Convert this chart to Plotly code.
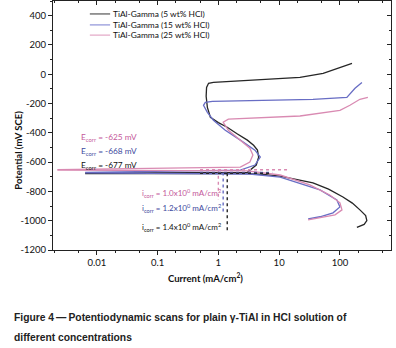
import plotly.graph_objects as go

# ---------------- data ----------------
series_names = ["TiAl-Gamma (5 wt% HCl)", "TiAl-Gamma (15 wt% HCl)", "TiAl-Gamma (25 wt% HCl)"]

# 5 wt% HCl (black)
i_5 = [190, 250, 277, 265, 213, 160, 112, 65, 36, 18, 10.4, 5.5, 3.0, 0.0066, 0.0066, 3.0,
       4.2, 4.6, 4.4, 3.8, 3.0, 2.0, 1.4, 1.0, 0.74, 0.66, 0.63, 0.64, 0.69, 0.83, 3, 10.4, 22, 53, 89, 158]
e_5 = [-1045, -1025, -1000, -965, -926, -880, -838, -785, -742, -715, -695, -684, -678, -678, -675, -670,
       -620, -566, -518, -485, -450, -405, -362, -330, -294, -226, -150, -90, -62, -56, -44, -34, -22, 6, 40, 74]

# 15 wt% HCl (blue)
i_15 = [30, 47, 77, 100, 89, 47, 10.4, 3.3, 0.0066, 0.0066, 2.3, 4.0, 4.9, 4.0, 2.3, 1.3, 0.83, 0.66,
        0.57, 0.61, 0.8, 10.4, 36, 130, 177, 230]
e_15 = [-987, -973, -946, -906, -858, -790, -702, -681, -673, -670, -654, -620, -566, -518, -450, -382, -314, -260,
        -212, -192, -185, -178, -171, -158, -96, -56]

# 25 wt% HCl (pink)
i_25 = [30, 47, 83, 108, 100, 68, 32, 10.4, 3.0, 0.0023, 0.0023, 2.3, 3.3, 3.7, 3.3, 2.3, 1.46, 1.2, 1.46,
        22, 47, 100, 146, 213, 288]
e_25 = [-994, -980, -960, -926, -878, -824, -756, -688, -660, -655, -651, -634, -600, -552, -505, -450, -382, -328, -307,
        -285, -266, -246, -212, -171, -158]

# corrosion parameters (Tafel extrapolation)
ecorr_labels = ["-625 mV", "-668 mV", "-677 mV"]
icorr_labels = ["1.0x10<sup>0</sup> mA/cm<sup>2</sup>", "1.2x10<sup>0</sup> mA/cm<sup>2</sup>",
                "1.4x10<sup>0</sup> mA/cm<sup>2</sup>"]
icorr_values = [1.0, 1.2, 1.4]            # pink, blue, black
ecorr_lines = [-652, -671, -676]          # level of dotted Tafel lines
tafel_end = [14, 7.7, 7.0]                # right end of the dotted horizontal
tafel_bottom = [-858, -940, -1082]        # lower end of the dotted vertical

y_tick_vals = [400, 200, 0, -200, -400, -600, -800, -1000, -1200]
x_tick_vals = [0.01, 0.1, 1, 10, 100]
x_tick_text = ["0.01", "0.1", "1", "10", "100"]

# ---------------- styles ----------------
C_BLACK = "#262626"
C_BLUE = "#686dc4"
C_PINK = "#d98ab2"
TXT_PINK = "#c4589a"
TXT_BLUE = "#3e4a9e"
FONT = "Lato, Liberation Sans, sans-serif"

fig = go.Figure()
for xs, ys, c, n in [(i_5, e_5, C_BLACK, series_names[0]),
                     (i_15, e_15, C_BLUE, series_names[1]),
                     (i_25, e_25, C_PINK, series_names[2])]:
    fig.add_trace(go.Scatter(x=xs, y=ys, mode="lines", name=n,
                             line=dict(color=c, width=1.3), showlegend=False))

# dotted Tafel construction lines
tcol = [C_PINK, C_BLUE, C_BLACK]
for k in range(3):
    fig.add_trace(go.Scatter(x=[0.5, tafel_end[k]], y=[ecorr_lines[k], ecorr_lines[k]], mode="lines",
                             line=dict(color=tcol[k], width=1.4, dash="dot"), showlegend=False))
    fig.add_trace(go.Scatter(x=[icorr_values[k], icorr_values[k]], y=[ecorr_lines[k], tafel_bottom[k]],
                             mode="lines", line=dict(color=tcol[k], width=1.4, dash="dot"), showlegend=False))

# dummy trace for mirrored (inside) ticks on top/right
fig.add_trace(go.Scatter(x=[0.01], y=[0], xaxis="x2", yaxis="y2", mode="markers",
                         marker=dict(opacity=0), showlegend=False, hoverinfo="skip"))

# ---------------- annotations ----------------
txtcols = [TXT_PINK, TXT_BLUE, "#111111"]
for k, ey in enumerate([-430, -525, -620]):
    fig.add_annotation(x=-2.295, y=ey, xref="x", yref="y", xanchor="left", yanchor="middle", showarrow=False,
                       text=f"E<sub>corr</sub> = {ecorr_labels[k]}",
                       font=dict(family=FONT, size=8.3, color=txtcols[k]))
for k, iy in enumerate([-810, -912, -1042]):
    fig.add_annotation(x=-1.29, y=iy, xref="x", yref="y", xanchor="left", yanchor="middle", showarrow=False,
                       text=f"i<sub>corr</sub> = {icorr_labels[k]}",
                       font=dict(family=FONT, size=8, color=txtcols[k]))

# legend (custom, compact)
leg_cols = ["#555555", "#8e92d8", "#e3a6c6"]
for k, py in enumerate([0.948, 0.904, 0.863]):
    fig.add_shape(type="line", xref="paper", yref="paper", x0=0.109, x1=0.169, y0=py, y1=py,
                  line=dict(color=leg_cols[k], width=1.2))
    fig.add_annotation(x=0.172, y=py, xref="paper", yref="paper", xanchor="left", yanchor="middle",
                       showarrow=False, text=series_names[k],
                       font=dict(family=FONT, size=8.4, color="#111111"))

# axis titles
fig.add_annotation(x=-0.125, y=0.40, xref="paper", yref="paper", textangle=-90, showarrow=False,
                   text="<b>Potential (mV SCE)</b>", font=dict(family=FONT, size=9.5, color="#111111"))
fig.add_annotation(x=0.45, y=-0.145, xref="paper", yref="paper", showarrow=False,
                   text="<b>Current (mA/cm<sup>2</sup>)</b>", font=dict(family=FONT, size=9.5, color="#111111"))

# caption
CAP_FONT = dict(family="Liberation Sans, Arial, sans-serif", size=10.3, color="#222222")
fig.add_annotation(x=-0.121, y=-0.273, xref="paper", yref="paper", xanchor="left", yanchor="middle",
                   showarrow=False, text="<b>Figure 4\u2009\u2014\u2009Potentiodynamic scans for plain \u03b3-TiAl in HCl solution of</b>",
                   font=CAP_FONT)
fig.add_annotation(x=-0.121, y=-0.353, xref="paper", yref="paper", xanchor="left", yanchor="middle",
                   showarrow=False, text="<b>different concentrations</b>", font=CAP_FONT)

XR = [-2.72, 2.84]
YR = [-1200, 500]
common = dict(showgrid=False, zeroline=False, automargin=False, showline=True, linecolor="#222", linewidth=1,
              tickcolor="#222")
fig.update_layout(
    width=396, height=348,
    margin=dict(l=53, r=5, t=1, b=98, autoexpand=False),
    paper_bgcolor="white", plot_bgcolor="white",
    font=dict(family=FONT, size=9.5, color="#111111"),
    showlegend=False,
    hovermode=False,
    xaxis=dict(type="log", range=XR, tickvals=x_tick_vals, ticktext=x_tick_text,
               ticks="outside", ticklen=4, tickfont=dict(size=9.5),
               minor=dict(ticks="outside", ticklen=2, tickcolor="#222", showgrid=False), **common),
    yaxis=dict(range=YR, tickvals=y_tick_vals, ticktext=[str(v) for v in y_tick_vals],
               ticks="outside", ticklen=4, tickfont=dict(size=9.5),
               minor=dict(dtick=100, ticks="outside", ticklen=2, tickcolor="#222", showgrid=False), **common),
    xaxis2=dict(type="log", range=XR, overlaying="x", side="top", tickvals=x_tick_vals, showticklabels=False,
                ticks="inside", ticklen=4,
                minor=dict(ticks="inside", ticklen=2, tickcolor="#222", showgrid=False), **common),
    yaxis2=dict(range=YR, overlaying="y", side="right", tickvals=y_tick_vals, showticklabels=False,
                ticks="inside", ticklen=4,
                minor=dict(dtick=100, ticks="inside", ticklen=2, tickcolor="#222", showgrid=False), **common),
)

fig.write_html("out.html", config={"displayModeBar": False, "staticPlot": True},
               post_script="document.body.style.margin='0';document.body.style.overflow='hidden';")
